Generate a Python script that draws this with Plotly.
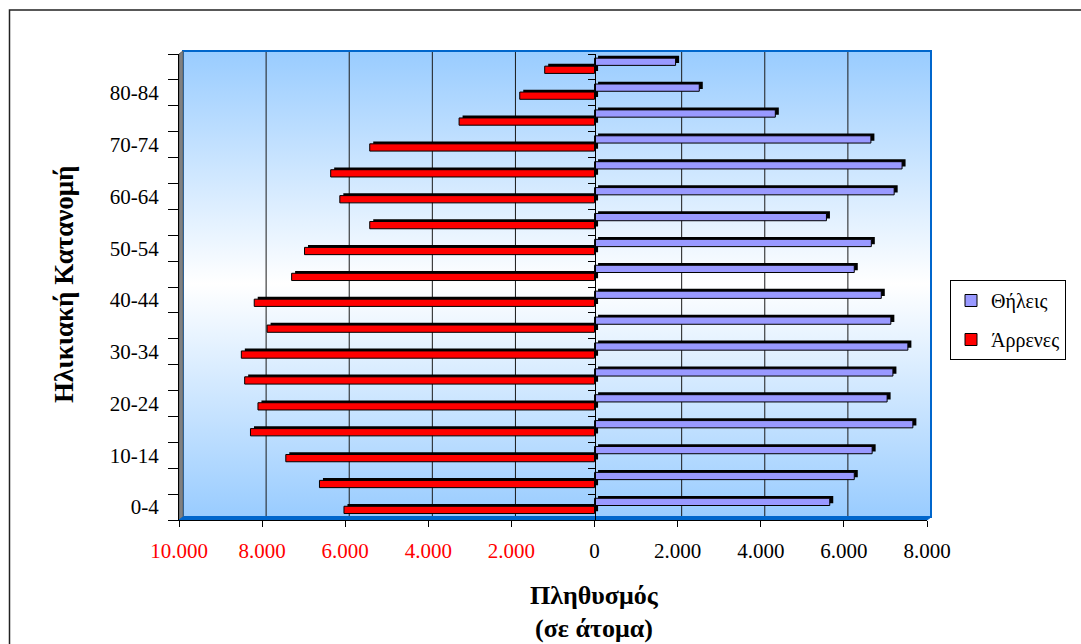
import base64
import plotly.graph_objects as go

# Age groups, bottom to top
ages = ["0-4", "5-9", "10-14", "15-19", "20-24", "25-29", "30-34", "35-39",
        "40-44", "45-49", "50-54", "55-59", "60-64", "65-69", "70-74",
        "75-79", "80-84", "85+"]

# Population by sex (persons)
males = [6030, 6620, 7430, 8280, 8100, 8420, 8500, 7880, 8190, 7290,
         6980, 5410, 6130, 6350, 5410, 3260, 1800, 1200]
females = [5660, 6250, 6680, 7660, 7040, 7180, 7540, 7130, 6900, 6250,
           6660, 5580, 7210, 7400, 6650, 4350, 2520, 1950]

x_ticks = [-10000, -8000, -6000, -4000, -2000, 0, 2000, 4000, 6000, 8000]
grid_vals = [-8000, -6000, -4000, -2000, 2000, 4000, 6000]

W, H = 1081, 644
L, R, T, B = 179, 927, 54, 520          # front plane of the plot area (px)
DEPTH_X, DEPTH_Y = 4, 3                 # 3-D wall offset (px)


def px_x(p):
    return (p - L) / (R - L)


def px_y(p):
    return (B - p) / (B - T)


def fmt(v):
    s = f"{abs(v):,}".replace(",", ".")
    if v < 0:
        return f'<span style="color:#FF0000">{s}</span>'
    return s


male_neg = [-v for v in males]
depth_val = 3.5 * 18000 / (R - L)        # bar extrusion in data units
face_w = 0.28
red_off, blue_off, lift = -0.25, 0.06, 0.09

fig = go.Figure()

# extrusion (dark top / end faces) of the bars
fig.add_trace(go.Bar(y=ages, x=male_neg, base=depth_val, orientation="h",
                     offset=red_off + lift, width=face_w,
                     marker=dict(color="#000000", line=dict(width=0)),
                     showlegend=False, hoverinfo="skip"))
fig.add_trace(go.Bar(y=ages, x=male_neg, orientation="h",
                     offset=red_off, width=face_w, name="Άρρενες",
                     legendgroup="m", legendrank=2,
                     marker=dict(color="#FF0000",
                                 line=dict(color="#000000", width=1))))
fig.add_trace(go.Bar(y=ages, x=females, base=depth_val, orientation="h",
                     offset=blue_off + lift, width=face_w, yaxis="y2",
                     marker=dict(color="#000000", line=dict(width=0)),
                     showlegend=False, hoverinfo="skip"))
fig.add_trace(go.Bar(y=ages, x=females, orientation="h",
                     offset=blue_off, width=face_w, name="Θήλεις",
                     legendgroup="f", legendrank=1, yaxis="y2",
                     marker=dict(color="#9999FF",
                                 line=dict(color="#000000", width=1))))

# gradient back wall
svg = ('<svg xmlns="http://www.w3.org/2000/svg" width="100" height="100" '
       'viewBox="0 0 100 100" preserveAspectRatio="none"><defs>'
       '<linearGradient id="g" x1="0" y1="0" x2="0" y2="1">'
       '<stop offset="0" stop-color="#99CCFF"/>'
       '<stop offset="0.5" stop-color="#FFFFFF"/>'
       '<stop offset="1" stop-color="#99CCFF"/>'
       '</linearGradient></defs>'
       '<rect width="100" height="100" fill="url(#g)"/></svg>')
uri = "data:image/svg+xml;base64," + base64.b64encode(svg.encode()).decode()

wx0, wx1 = px_x(L + DEPTH_X), px_x(R + DEPTH_X)
wy0, wy1 = px_y(B - DEPTH_Y), px_y(T - DEPTH_Y)

shapes = []
# outer chart frame
shapes.append(dict(type="rect", xref="paper", yref="paper",
                   x0=px_x(9.5), x1=px_x(1100), y0=px_y(660), y1=px_y(10),
                   line=dict(color="#222222", width=1.5), layer="below"))
# gridlines on the back wall
for v in grid_vals:
    shapes.append(dict(type="line", xref="x", xsizemode="pixel", xanchor=v,
                       x0=DEPTH_X, x1=DEPTH_X, yref="paper", y0=wy0, y1=wy1,
                       line=dict(color="#1a1a1a", width=1), layer="below"))
# wall border
shapes.append(dict(type="rect", xref="paper", yref="paper",
                   x0=wx0, x1=wx1, y0=wy0, y1=wy1,
                   line=dict(color="#0066CC", width=2), layer="below"))
# left side wall
shapes.append(dict(type="path", xref="paper", yref="paper",
                   path=(f"M{px_x(L)},{px_y(B)} L{px_x(L)},{px_y(T)} "
                         f"L{wx0},{wy1} L{wx0},{wy0} Z"),
                   fillcolor="#808080", line=dict(color="#606060", width=1),
                   layer="below"))
# floor
shapes.append(dict(type="path", xref="paper", yref="paper",
                   path=(f"M{px_x(L)},{px_y(B)} L{px_x(R)},{px_y(B)} "
                         f"L{wx1},{wy0} L{wx0},{wy0} Z"),
                   fillcolor="#0066CC", line=dict(color="#0066CC", width=1),
                   layer="below"))

serif = "Liberation Serif, Times New Roman, serif"

fig.update_layout(
    width=W, height=H, autosize=False,
    margin=dict(l=L, r=W - R, t=T, b=H - B, pad=0),
    paper_bgcolor="#FFFFFF", plot_bgcolor="rgba(0,0,0,0)",
    barmode="overlay",
    font=dict(family=serif, color="#000000", size=21),
    images=[dict(source=uri, xref="paper", yref="paper", x=wx0, y=wy1,
                 sizex=wx1 - wx0, sizey=wy1 - wy0, xanchor="left",
                 yanchor="top", sizing="stretch", layer="below")],
    shapes=shapes,
    xaxis=dict(range=[-10000, 8000], tickmode="array", tickvals=x_ticks,
               ticktext=[fmt(v) for v in x_ticks], showgrid=False,
               zeroline=False, showline=True, linecolor="#000000",
               linewidth=1, ticks="outside", ticklen=6, tickcolor="#000000",
               tickfont=dict(family=serif, size=21), ticklabelstandoff=6),
    yaxis=dict(type="category", categoryorder="array", categoryarray=ages,
               range=[-0.5, 17.5], tickmode="array", tickvals=ages,
               ticktext=[a if i % 2 == 0 else "" for i, a in enumerate(ages)],
               tickson="boundaries", ticks="outside", ticklen=10,
               tickcolor="#000000", showgrid=False, zeroline=False,
               showline=True, linecolor="#000000", linewidth=1,
               tickfont=dict(family=serif, size=21), ticklabelstandoff=15),
    yaxis2=dict(type="category", categoryorder="array", categoryarray=ages,
                range=[-0.5, 17.5], overlaying="y", anchor="free",
                position=10 / 18, side="left", tickmode="array",
                tickvals=ages, tickson="boundaries", ticks="outside",
                ticklen=7, tickcolor="#000000", showticklabels=False,
                showgrid=False, zeroline=False, showline=True,
                linecolor="#000000", linewidth=1),
    legend=dict(x=px_x(950), y=px_y(280), xanchor="left", yanchor="top",
                bgcolor="#FFFFFF", bordercolor="#000000", borderwidth=1,
                font=dict(family=serif, size=20), traceorder="grouped",
                tracegroupgap=10),
    annotations=[
        dict(text="<b>Πληθυσμός</b>", xref="paper", yref="paper",
             x=px_x(594), y=px_y(595), showarrow=False, xanchor="center",
             yanchor="middle", font=dict(family=serif, size=26)),
        dict(text="<b>(σε άτομα)</b>", xref="paper", yref="paper",
             x=px_x(594), y=px_y(628), showarrow=False, xanchor="center",
             yanchor="middle", font=dict(family=serif, size=26)),
        dict(text="<b>Ηλικιακή Κατανομή</b>", xref="paper", yref="paper",
             x=px_x(64), y=px_y(285), showarrow=False, textangle=-90,
             xanchor="center", yanchor="middle",
             font=dict(family=serif, size=27)),
    ],
)

fig.write_html("out.html")
